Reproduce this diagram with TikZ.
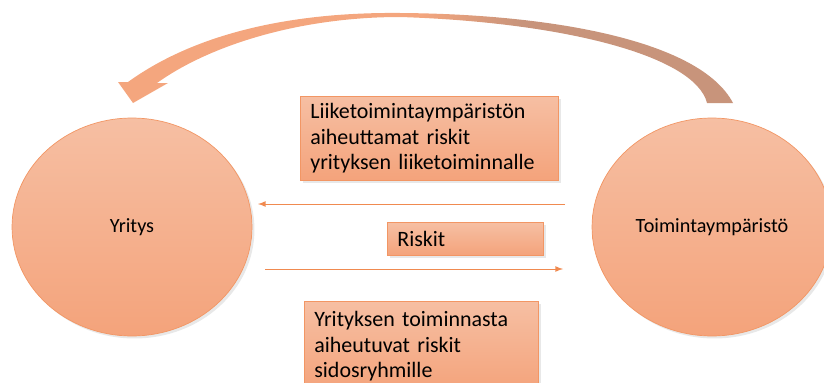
\documentclass[tikz,border=0pt]{standalone}
\usepackage{fontspec}
\setmainfont{Carlito}
\usetikzlibrary{shapes.geometric,shadows}
\definecolor{peachtop}{RGB}{246,191,163}
\definecolor{peachbot}{RGB}{244,163,123}
\definecolor{peachline}{RGB}{242,150,100}
\definecolor{flowline}{RGB}{240,138,80}
\definecolor{bandlight}{RGB}{244,166,126}
\definecolor{banddark}{RGB}{200,148,123}
\tikzset{
  party/.style={ellipse, draw=peachline, line width=0.4pt,
    top color=peachtop, bottom color=peachbot,
    minimum width=4.8cm, minimum height=4.36cm,
    font=\fontsize{11.5}{14}\selectfont,
    drop shadow={opacity=0.18, shadow xshift=0.05cm, shadow yshift=-0.05cm}},
  riskbox/.style={rectangle, draw=peachline, line width=0.4pt,
    top color=peachtop, bottom color=peachbot,
    anchor=north west, align=left, inner xsep=0.2cm, inner ysep=0pt,
    font=\fontsize{12.5}{14.4}\selectfont,
    drop shadow={opacity=0.18, shadow xshift=0.05cm, shadow yshift=-0.05cm}},
  flow/.style={->, draw=flowline, line width=0.5pt}
}
\begin{document}
\begin{tikzpicture}[x=0.02cm,y=-0.02cm,>=latex]
    \useasboundingbox (0,0) rectangle (824,382);
    % --- the two parties ---
    \node[party] (yritys) at (132,227) {Yritys};
    \node[party] (ymparisto) at (712,227) {Toimintaympäristö};
    % --- curved return arrow over the top ---
    \begin{scope}
      \clip (133,103) -- (118,82) -- (128,82)
        .. controls (200,30) and (300,12) .. (400,13)
        .. controls (550,14) and (700,40) .. (733,103)
        -- (707,103)
        .. controls (695,55) and (560,22) .. (400,17)
        .. controls (300,17) and (210,45) .. (157,83)
        -- (168,83) -- cycle;
      \fill[bandlight] (100,0) rectangle (420,120);
      \shade[left color=bandlight, right color=banddark] (420,0) rectangle (520,120);
      \fill[banddark] (520,0) rectangle (760,120);
    \end{scope}
    % --- risk boxes ---
    \node[riskbox, text width=4.76cm, minimum height=1.68cm] (envrisk) at (300,96)
      {Liiketoimintaympäristön\\aiheuttamat riskit\\yrityksen liiketoiminnalle};
    \node[riskbox, text width=2.72cm, minimum height=0.66cm] (riskit) at (387,222) {Riskit};
    \node[riskbox, text width=4.28cm, minimum height=1.8cm] (firmrisk) at (304,301)
      {Yrityksen toiminnasta\\aiheutuvat riskit\\sidosryhmille};
    % --- flows between the parties ---
    \coordinate (fromenv) at (565,204);
    \coordinate (toyritys) at (258,204);
    \coordinate (fromyritys) at (265,269);
    \coordinate (toenv) at (563,269);
    \draw[flow] (fromenv) -- (toyritys);
    \draw[flow] (fromyritys) -- (toenv);
  \end{tikzpicture}
\end{document}
